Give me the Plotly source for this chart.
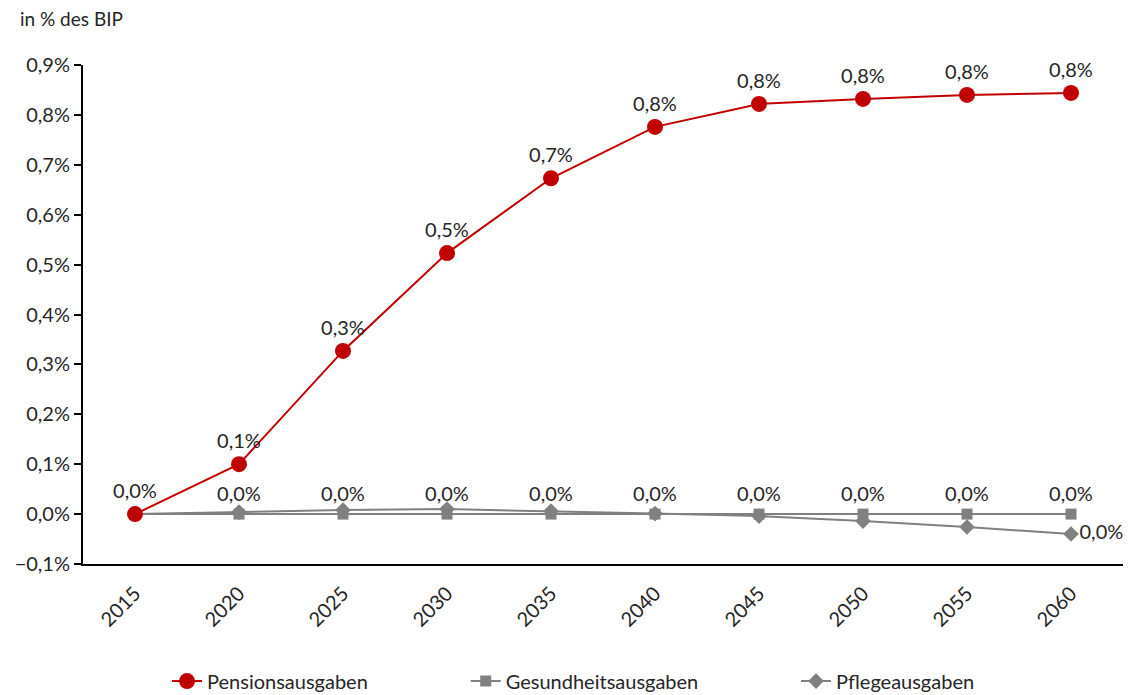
import plotly.graph_objects as go

years = ["2015", "2020", "2025", "2030", "2035", "2040", "2045", "2050", "2055", "2060"]
pension = [0.0, 0.100, 0.327, 0.523, 0.673, 0.776, 0.822, 0.832, 0.840, 0.844]
gesundheit = [0.0, 0.0, 0.0, 0.0, 0.0, 0.0, 0.0, 0.0, 0.0, 0.0]
pflege = [0.0, 0.004, 0.008, 0.010, 0.006, 0.001, -0.004, -0.014, -0.026, -0.040]

def fmt(v):
    s = f"{round(v, 1) + 0.0:.1f}".replace("-0.0", "0.0")
    return s.replace(".", ",") + "%"

FONT = "Lato"
TXT = "#262626"
fig = go.Figure()
fig.add_trace(go.Scatter(
    x=years, y=gesundheit, name="Gesundheitsausgaben", mode="lines+markers+text",
    line=dict(color="#808080", width=2), marker=dict(symbol="square", size=11, color="#808080"),
    text=[""] + [fmt(v) for v in gesundheit[1:]], textposition="top center",
    textfont=dict(size=20, color=TXT, family=FONT), cliponaxis=False, legend="legend2"))
fig.add_trace(go.Scatter(
    x=years, y=pflege, name="Pflegeausgaben", mode="lines+markers+text",
    line=dict(color="#808080", width=2), marker=dict(symbol="diamond", size=12, color="#808080"),
    text=[""] * (len(pflege) - 1) + [fmt(pflege[-1])], textposition="middle right",
    textfont=dict(size=20, color=TXT, family=FONT), cliponaxis=False, legend="legend3"))
fig.add_trace(go.Scatter(
    x=years, y=pension, name="Pensionsausgaben", mode="lines+markers+text",
    line=dict(color="#C00000", width=2), marker=dict(symbol="circle", size=16, color="#C00000"),
    text=[fmt(v) for v in pension], textposition="top center",
    textfont=dict(size=20, color=TXT, family=FONT), cliponaxis=False, legend="legend"))

def leg(x):
    return dict(orientation="h", x=x, xanchor="left", yref="container", y=0.02,
                yanchor="middle", font=dict(size=20, family=FONT, color=TXT),
                bgcolor="rgba(0,0,0,0)")

fig.update_layout(
    width=1143, height=695,
    margin=dict(l=83, r=20, t=65, b=131, autoexpand=False),
    plot_bgcolor="white", paper_bgcolor="white",
    font=dict(family=FONT, size=20, color=TXT),
    separators=",.",
    showlegend=True,
    legend=leg(0.0808),
    legend2=leg(0.368),
    legend3=leg(0.6856),
    xaxis=dict(type="category", range=[-0.5, 9.5], showline=True, linecolor="black", linewidth=2,
               ticks="outside", ticklen=8, tickcolor="white", tickangle=-45, showgrid=False,
               zeroline=False, tickfont=dict(size=20, family=FONT, color=TXT)),
    yaxis=dict(range=[-0.1, 0.9], dtick=0.1, tick0=0, tickformat=".1f", ticksuffix="%",
               showline=True, linecolor="black", linewidth=2, ticks="outside", ticklen=7,
               tickwidth=2, tickcolor="black", showgrid=False, zeroline=False,
               tickfont=dict(size=20, family=FONT, color=TXT)),
    annotations=[dict(text="in % des BIP", xref="paper", yref="paper", x=-0.0625, y=1.094,
                      xanchor="left", yanchor="middle", showarrow=False,
                      font=dict(size=19, family=FONT, color=TXT))],
)
fig.write_html("out.html")
